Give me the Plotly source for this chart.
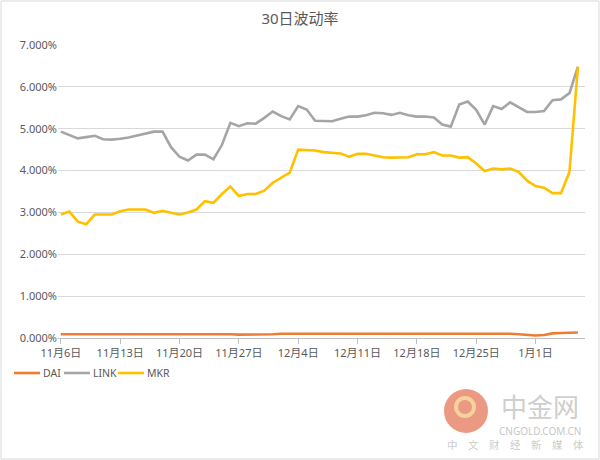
import plotly.graph_objects as go
import pandas as pd

dates = pd.date_range("2019-11-06", "2020-01-06", freq="D")

link = [4.93, 4.85, 4.77, 4.80, 4.83, 4.75, 4.74, 4.76, 4.79, 4.84,
        4.88, 4.93, 4.93, 4.56, 4.33, 4.24, 4.38, 4.38, 4.27, 4.61,
        5.14, 5.06, 5.13, 5.12, 5.26, 5.41, 5.30, 5.22, 5.54, 5.46,
        5.19, 5.19, 5.18, 5.24, 5.29, 5.29, 5.32, 5.38, 5.37, 5.33,
        5.38, 5.32, 5.29, 5.29, 5.27, 5.10, 5.05, 5.58, 5.65, 5.45,
        5.10, 5.54, 5.47, 5.63, 5.52, 5.40, 5.40, 5.42, 5.68, 5.70,
        5.85, 6.48]

mkr = [2.95, 3.02, 2.78, 2.72, 2.95, 2.95, 2.95, 3.03, 3.07, 3.07,
       3.07, 2.99, 3.04, 2.99, 2.95, 3.00, 3.07, 3.27, 3.23, 3.44,
       3.62, 3.39, 3.44, 3.44, 3.52, 3.71, 3.84, 3.95, 4.50, 4.49,
       4.48, 4.44, 4.43, 4.41, 4.33, 4.40, 4.40, 4.36, 4.32, 4.31,
       4.32, 4.32, 4.39, 4.39, 4.44, 4.36, 4.36, 4.31, 4.32, 4.17,
       3.99, 4.05, 4.03, 4.05, 3.97, 3.76, 3.63, 3.59, 3.46, 3.46,
       3.97, 6.48]

dai = [0.09, 0.09, 0.09, 0.09, 0.09, 0.09, 0.09, 0.09, 0.09, 0.09,
       0.09, 0.09, 0.10, 0.10, 0.10, 0.10, 0.10, 0.10, 0.10, 0.09,
       0.09, 0.08, 0.08, 0.08, 0.08, 0.09, 0.10, 0.10, 0.10, 0.10,
       0.10, 0.10, 0.10, 0.11, 0.11, 0.11, 0.11, 0.11, 0.11, 0.11,
       0.11, 0.11, 0.11, 0.10, 0.10, 0.10, 0.10, 0.10, 0.10, 0.10,
       0.10, 0.10, 0.10, 0.10, 0.09, 0.08, 0.06, 0.07, 0.11, 0.12,
       0.12, 0.13]

tick_dates = ["2019-11-06", "2019-11-13", "2019-11-20", "2019-11-27",
              "2019-12-04", "2019-12-11", "2019-12-18", "2019-12-25",
              "2020-01-01"]
tick_labels = ["11月6日", "11月13日", "11月20日", "11月27日", "12月4日",
               "12月11日", "12月18日", "12月25日", "1月1日"]

series_names = ["DAI", "LINK", "MKR"]
series_values = [dai, link, mkr]
series_colors = ["#ED7D31", "#A5A5A5", "#FFC000"]

FONT = "Noto Sans, Noto Sans CJK SC, sans-serif"
TXT = "#595959"

fig = go.Figure()
for name, vals, color in zip(series_names, series_values, series_colors):
    fig.add_trace(go.Scatter(
        x=dates, y=[v / 100 for v in vals], name=name, mode="lines",
        line=dict(color=color, width=2.6), showlegend=False))

L, R, T, B = 58, 15, 45, 122
W, H = 600, 460
pw, ph = W - L - R, H - T - B


def px(x):
    return (x - L) / pw


def py(y):
    return (H - B - y) / ph


fig.update_layout(
    width=W, height=H,
    margin=dict(l=L, r=R, t=T, b=B),
    paper_bgcolor="white", plot_bgcolor="white",
    font=dict(family=FONT, size=11, color=TXT),
    title=dict(text="30日波动率", x=0.5, xanchor="center", y=1 - 19 / H,
               yanchor="middle", font=dict(size=15, color=TXT, family=FONT)),
    showlegend=False,
    xaxis=dict(type="date",
               range=["2019-11-05 16:00", "2020-01-06 20:00"],
               tickvals=tick_dates, ticktext=tick_labels,
               showgrid=False, showline=True, linecolor="#BFBFBF", linewidth=1,
               ticks="outside", ticklen=5, tickcolor="#BFBFBF",
               tickfont=dict(size=11, color=TXT), zeroline=False),
    yaxis=dict(range=[0, 0.07], dtick=0.01, tickformat=".3%",
               showgrid=True, gridcolor="#D9D9D9", gridwidth=1,
               zeroline=False, showline=False, ticks="",
               tickfont=dict(size=11, color=TXT)),
)

shapes = [
    # outer frame of the chart
    dict(type="rect", xref="paper", yref="paper",
         x0=px(1), x1=px(599), y0=py(1), y1=py(459),
         line=dict(color="#D9D9D9", width=1), fillcolor="rgba(0,0,0,0)", layer="below"),
    # watermark logo circle
    dict(type="circle", xref="paper", yref="paper",
         x0=px(444), x1=px(488), y0=py(389), y1=py(433),
         line=dict(color="#E9876D", width=0), fillcolor="#E9876D", opacity=0.85),
    dict(type="circle", xref="paper", yref="paper",
         x0=px(456), x1=px(474), y0=py(398), y1=py(416),
         line=dict(color="#F6D9A0", width=4), fillcolor="rgba(0,0,0,0)", opacity=0.9),
]

annotations = [
    dict(text="中金网", x=px(540), y=py(405), xref="paper", yref="paper",
         showarrow=False, xanchor="center", yanchor="middle",
         font=dict(size=26, color="#CFCFCF", family="Noto Sans CJK SC")),
    dict(text="CNGOLD.COM.CN", x=px(540), y=py(431), xref="paper", yref="paper",
         showarrow=False, xanchor="center", yanchor="middle",
         font=dict(size=10, color="#C8C8C8", family=FONT)),
    dict(text="中　文　财　经　新　媒　体", x=px(515), y=py(444), xref="paper", yref="paper",
         showarrow=False, xanchor="center", yanchor="middle",
         font=dict(size=10.5, color="#CCCCCC", family="Noto Sans CJK SC")),
]

# legend drawn beneath the axis (line sample + label per series)
legend_starts = [14, 64, 118]
for name, color, x0 in zip(series_names, series_colors, legend_starts):
    shapes.append(dict(type="line", xref="paper", yref="paper",
                       x0=px(x0), x1=px(x0 + 26), y0=py(373), y1=py(373),
                       line=dict(color=color, width=2.6)))
    annotations.append(dict(text=name, x=px(x0 + 27), y=py(373), xref="paper", yref="paper",
                            showarrow=False, xanchor="left", yanchor="middle",
                            font=dict(size=10.5, color=TXT, family=FONT)))

fig.update_layout(shapes=shapes, annotations=annotations)

fig.write_html("out.html", config={"displayModeBar": False},
               post_script="document.body.style.margin='0';document.body.style.padding='0';")
